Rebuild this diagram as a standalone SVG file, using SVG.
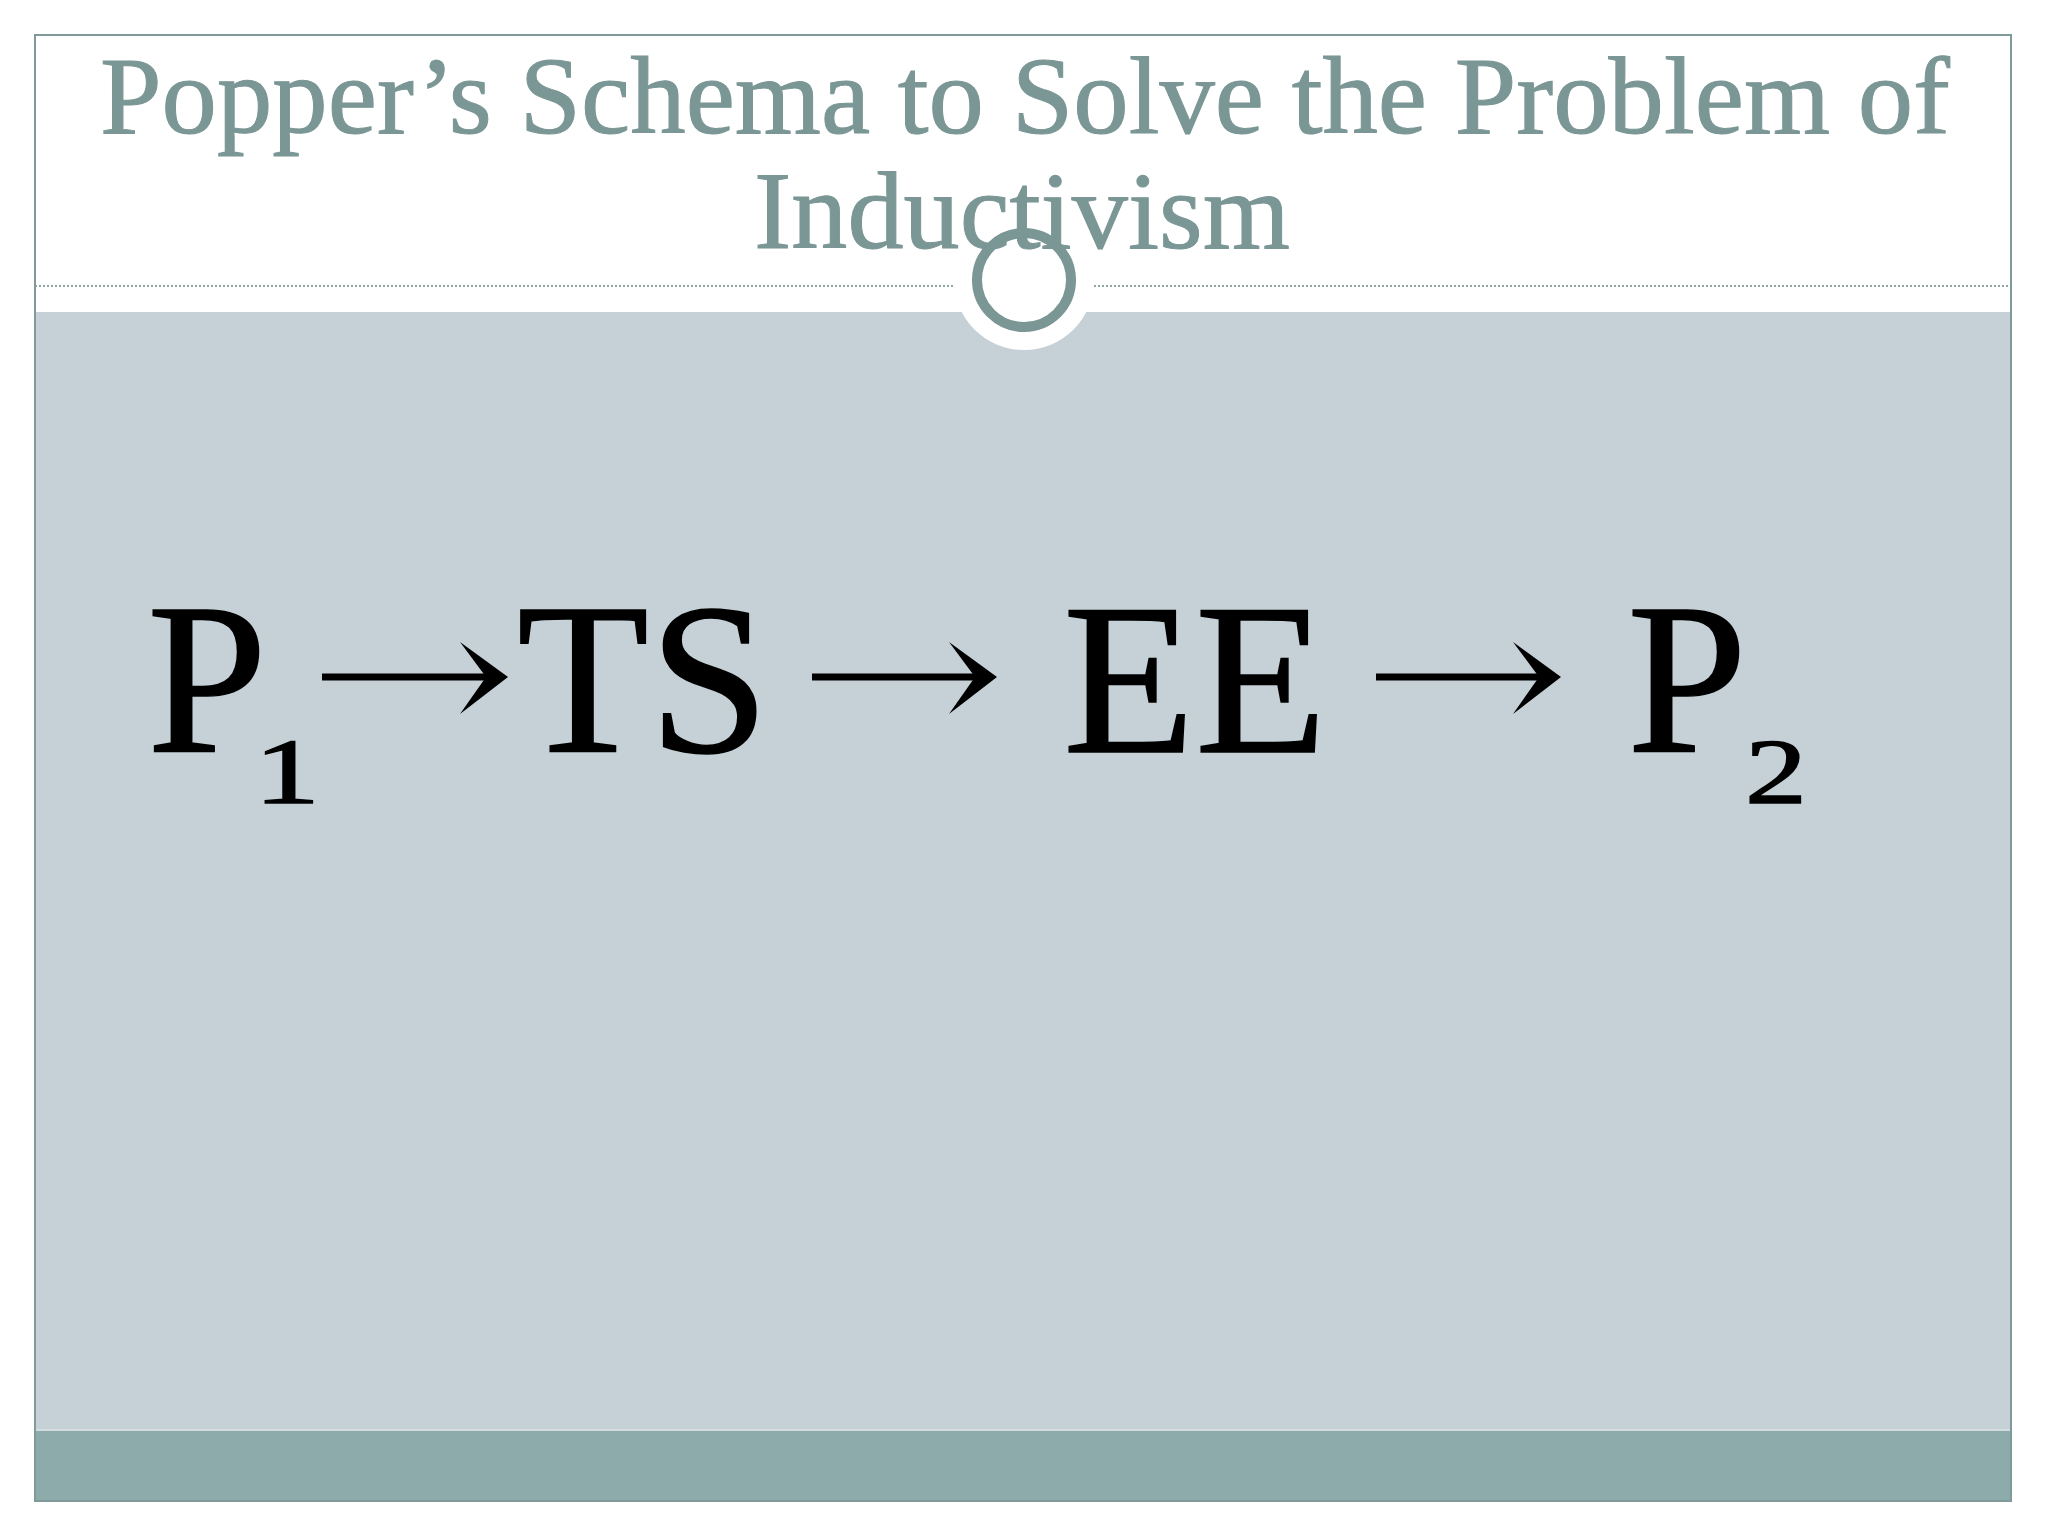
<svg xmlns="http://www.w3.org/2000/svg" width="2048" height="1536" viewBox="0 0 2048 1536">
  <style>
    .title { font-family: "Liberation Serif", "Times New Roman", serif; font-size: 110px; fill: #7a9695; stroke: #7a9695; stroke-width: 1px; }
    .term { font-family: "Liberation Serif", "Times New Roman", serif; font-size: 216px; fill: #000; stroke: #000; stroke-width: 1.5px; }
    .sub { font-size: 93px; }
    .conn { stroke: #000; stroke-width: 7; fill: none; marker-end: url(#head); }
  </style>
  <defs>
    <marker id="head" markerUnits="userSpaceOnUse" viewBox="-30 -40 60 80" refX="0" refY="0" markerWidth="60" markerHeight="80" orient="auto" overflow="visible">
      <polygon points="-26,-35 22,0 -26,37 0,0" fill="#000"/>
    </marker>
  </defs>

  <rect width="2048" height="1536" fill="#ffffff"/>

  <g id="slide-frame">
    <rect x="35" y="312" width="1976" height="1118" fill="#c5d1d6"/>
    <line x1="35" y1="1430" x2="2011" y2="1430" stroke="#d3dcdf" stroke-width="2"/>
    <rect x="35" y="1431" width="1976" height="70" fill="#8dabaa"/>
    <line x1="35" y1="286" x2="955" y2="286" stroke="#8fa6a5" stroke-width="2" stroke-dasharray="2 2"/>
    <line x1="1094" y1="286" x2="2011" y2="286" stroke="#8fa6a5" stroke-width="2" stroke-dasharray="2 2"/>
    <circle cx="1024" cy="280" r="70" fill="#ffffff"/>
    <rect x="35" y="35" width="1976" height="1466" fill="none" stroke="#7f9a99" stroke-width="2"/>
  </g>

  <g id="title">
    <text class="title" x="1025" y="133" text-anchor="middle" textLength="1850" lengthAdjust="spacingAndGlyphs">Popper’s Schema to Solve the Problem of</text>
    <text class="title" x="1022" y="248" text-anchor="middle" textLength="536" lengthAdjust="spacingAndGlyphs">Inductivism</text>
  </g>

  <g id="ring">
    <circle cx="1024" cy="280" r="47" fill="none" stroke="#7a9695" stroke-width="10"/>
  </g>

  <g id="node-P1">
    <text class="term" x="147" y="752">P<tspan class="sub" x="254" y="803" textLength="66" lengthAdjust="spacingAndGlyphs">1</tspan></text>
  </g>
  <g id="node-TS">
    <text class="term" x="517" y="752">TS</text>
  </g>
  <g id="node-EE">
    <text class="term" x="1063" y="752">EE</text>
  </g>
  <g id="node-P2">
    <text class="term" x="1627" y="752">P<tspan class="sub" x="1745" y="803" textLength="62" lengthAdjust="spacingAndGlyphs">2</tspan></text>
  </g>

  <g id="connectors">
    <line class="conn" x1="322" y1="677" x2="486" y2="677"/>
    <line class="conn" x1="812" y1="677" x2="975" y2="677"/>
    <line class="conn" x1="1376" y1="677" x2="1539" y2="677"/>
  </g>
</svg>
